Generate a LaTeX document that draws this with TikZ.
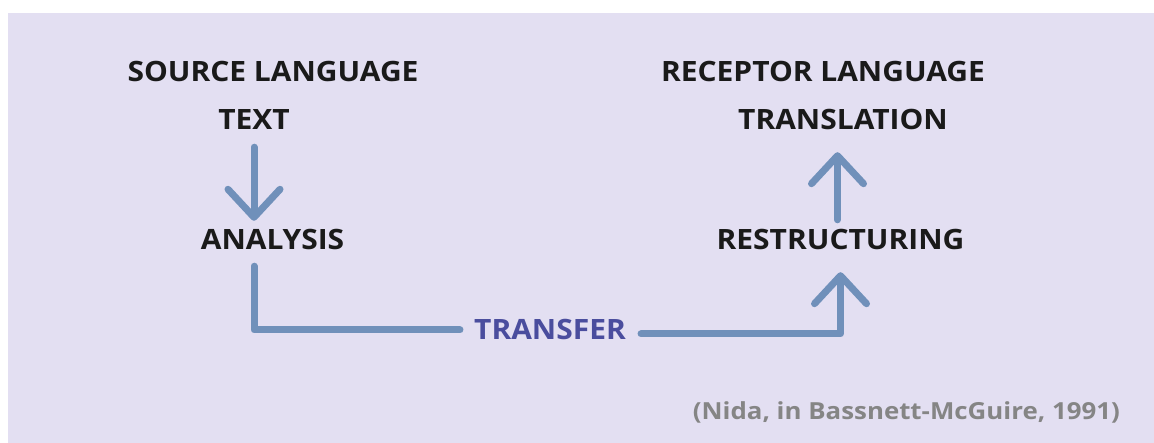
\documentclass[tikz,border=0pt]{standalone}
\usepackage{fontspec}
\setmainfont{Open Sans}
\newfontfamily\labelfont[FakeStretch=1.07]{Open Sans}
\newfontfamily\citefont[FakeStretch=1.1]{Open Sans}
\usetikzlibrary{arrows.meta}
\definecolor{bgpanel}{HTML}{E3DFF2}
\definecolor{flowblue}{HTML}{7090BA}
\definecolor{transferblue}{HTML}{4A4D9E}
\definecolor{citegray}{HTML}{858585}
\definecolor{inkdark}{HTML}{1A1A1A}
\tikzset{
  label/.style={inner sep=0pt, text height=20pt, text depth=0pt,
    font=\labelfont\fontsize{28}{30}\selectfont\bfseries, text=inkdark},
  flow/.style={draw=flowblue, line width=7pt, line cap=round, line join=round},
  tip/.style={-{Straight Barb[length=28pt, width=52pt, round]}}
}
\begin{document}
\begin{tikzpicture}[x=1pt, y=-1pt]
  \useasboundingbox (0,0) rectangle (1154,443);
  \fill[white] (0,0) rectangle (1154,443);
  \fill[bgpanel] (8,13) rectangle (1154,443);

  % source side
  \node[label] (src) at (273,72) {SOURCE LANGUAGE};
  \node[label] (text) at (254,120) {TEXT};
  \node[label] (analysis) at (272.5,240) {ANALYSIS};

  % receptor side
  \node[label] (rcp) at (823,72) {RECEPTOR LANGUAGE};
  \node[label] (transl) at (843,120) {TRANSLATION};
  \node[label] (restr) at (840.5,240) {RESTRUCTURING};

  % transfer
  \node[label, text=transferblue] (transfer) at (550,330) {TRANSFER};

  % citation
  \node[inner sep=0pt, font=\citefont\fontsize{23.5}{26}\selectfont\bfseries, text=citegray,
        anchor=east] (cite) at (1120,412) {(Nida, in Bassnett-McGuire, 1991)};

  % text -> analysis
  \draw[flow, tip] ([yshift=-17pt]text.south) -- ([yshift=9pt]text.south |- analysis.north);
  % analysis -> transfer
  \draw[flow] ([yshift=-16pt]text.south |- analysis.south)
     |- ([xshift=-14pt]transfer.west);
  % transfer -> restructuring
  \draw[flow, tip] ([xshift=15pt, yshift=-4pt]transfer.east)
     -| ([yshift=-22pt]restr.south);
  % restructuring -> translation
  \draw[flow, tip] ([xshift=-3pt, yshift=10pt]restr.north)
     -- ([xshift=-3pt, yshift=-22pt]restr.north |- transl.south);
\end{tikzpicture}
\end{document}
